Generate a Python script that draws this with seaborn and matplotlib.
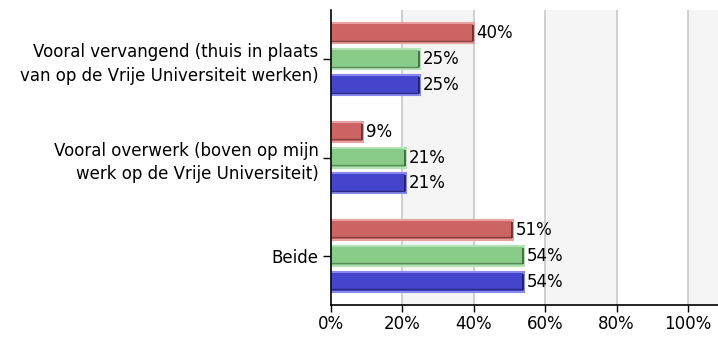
import matplotlib
matplotlib.use("Agg")
import matplotlib.pyplot as plt
import seaborn as sns
import pandas as pd

categories = [
    "Vooral vervangend (thuis in plaats\nvan op de Vrije Universiteit werken)",
    "Vooral overwerk (boven op mijn\nwerk op de Vrije Universiteit)",
    "Beide",
]
series = ["Groep 1", "Groep 2", "Groep 3"]
values = {
    "Groep 1": [40, 9, 51],
    "Groep 2": [25, 21, 54],
    "Groep 3": [25, 21, 54],
}
x_ticks = [0, 20, 40, 60, 80, 100]
x_labels = ["0%", "20%", "40%", "60%", "80%", "100%"]

colors = ["#cc6464", "#88cc88", "#4444cc"]
outlines = ["#e8a0a0", "#b4e2b4", "#8888ee"]
inner = ["#5a2a2a", "#3a5e3a", "#1a1a55"]

rows = []
for s in series:
    for c, v in zip(categories, values[s]):
        rows.append({"categorie": c, "reeks": s, "waarde": v})
df = pd.DataFrame(rows)

sns.set_style("white")
plt.rcParams["font.family"] = ["DejaVu Sans"]
plt.rcParams["text.color"] = "black"
plt.rcParams["xtick.color"] = "black"
plt.rcParams["ytick.color"] = "black"

fig = plt.figure(figsize=(7.18, 3.37), dpi=100)
ax = fig.add_axes([0.461, 0.095, 0.539, 0.875])

# alternating background bands
for i, lo in enumerate(range(0, 120, 20)):
    if i % 2 == 1:
        ax.axvspan(lo, lo + 20, color="#f5f5f5", zorder=0, lw=0)
for t in x_ticks[1:]:
    ax.axvline(t, color="#c8c8c8", lw=1.2, zorder=0.5)

sns.barplot(data=df, y="categorie", x="waarde", hue="reeks", order=categories,
            hue_order=series, palette=colors, saturation=1, width=0.79, gap=0.23,
            orient="h", ax=ax, legend=False, zorder=2)

for cont, oc, ic, s in zip(ax.containers, outlines, inner, series):
    for p in cont:
        p.set_edgecolor(oc)
        p.set_linewidth(1.5)
        # darker shading along the right end and the lower side of each bar
        x0, y0 = p.get_x(), p.get_y()
        w, h = p.get_width(), p.get_height()
        ax.plot([x0 + w - 0.35, x0 + w - 0.35], [y0 + 0.02, y0 + h - 0.02],
                color=ic, lw=1.2, zorder=3, solid_capstyle="butt")
        ax.plot([x0, x0 + w - 0.35], [y0 + h - 0.025, y0 + h - 0.025],
                color=ic, lw=1.0, alpha=0.6, zorder=3, solid_capstyle="butt")
    ax.bar_label(cont, labels=[f"{v}%" for v in values[s]], padding=2,
                 fontsize=12, color="black")

ax.set_xlim(0, 108.4)
ax.set_ylim(2.5, -0.5)
ax.set_xticks(x_ticks)
ax.set_xticklabels(x_labels, fontsize=12)
ax.tick_params(axis="y", labelsize=12, length=6, width=1, color="black", left=True, pad=3)
ax.tick_params(axis="x", length=5, width=1, color="black", bottom=True, pad=2)
for lab in ax.get_yticklabels():
    lab.set_linespacing(1.4)
ax.set_xlabel("")
ax.set_ylabel("")
for side in ["top", "right"]:
    ax.spines[side].set_visible(False)
for side in ["left", "bottom"]:
    ax.spines[side].set_color("black")
    ax.spines[side].set_linewidth(1.2)

fig.savefig("out.png", dpi=100)
